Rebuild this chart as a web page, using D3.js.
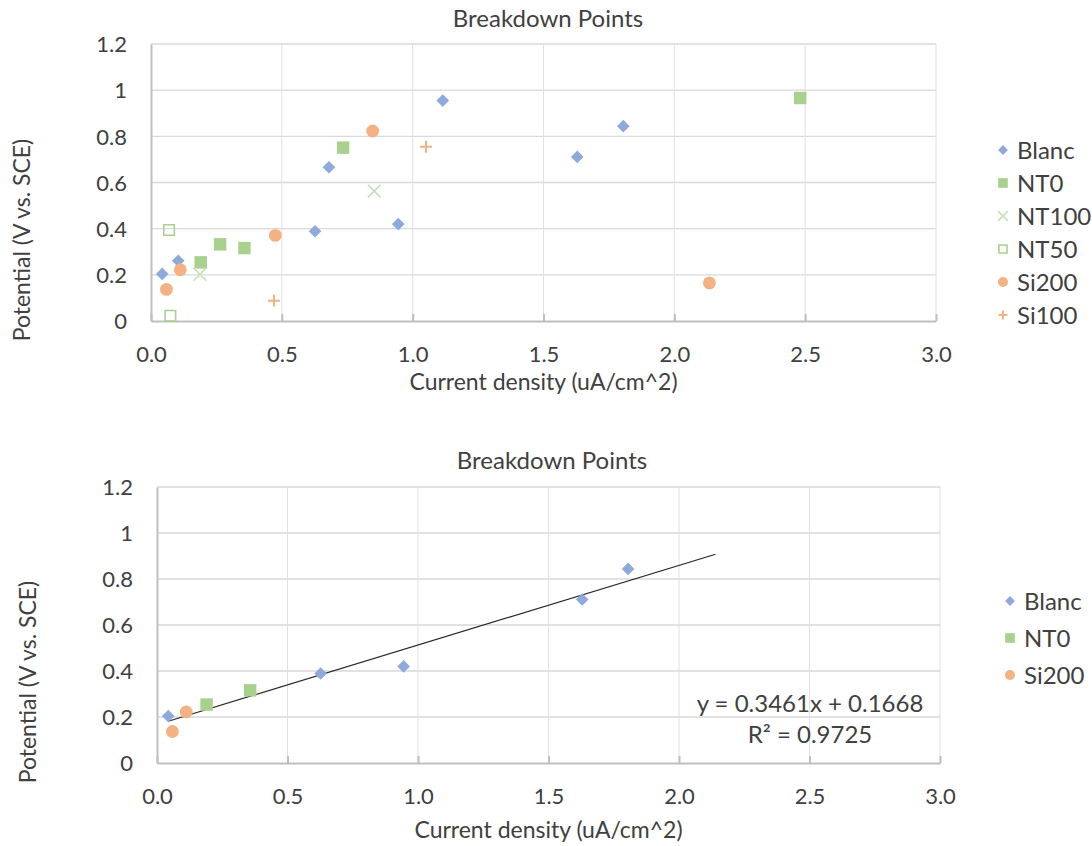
<!DOCTYPE html>
<html>
<head>
<meta charset="utf-8">
<script src="https://cdn.jsdelivr.net/npm/d3@7"></script>
<style>
  html, body { margin: 0; padding: 0; background: #fff; }
  svg { display: block; font-family: Lato, "Open Sans", sans-serif; }
</style>
</head>
<body>
<svg id="chart" width="1092" height="846"></svg>
<script>
// Breakdown points: current density (uA/cm^2) vs potential (V vs. SCE)
const blancX  = [0.043, 0.104, 0.627, 0.680, 0.945, 1.115, 1.629, 1.805];
const blancY  = [0.204, 0.261, 0.389, 0.666, 0.420, 0.955, 0.711, 0.844];
const nt0X    = [0.190, 0.264, 0.357, 0.734, 2.481];
const nt0Y    = [0.254, 0.332, 0.316, 0.751, 0.966];
const nt100X  = [0.187, 0.853];
const nt100Y  = [0.202, 0.563];
const nt50X   = [0.069, 0.074];
const nt50Y   = [0.394, 0.023];
const si200X  = [0.059, 0.112, 0.475, 0.847, 2.134];
const si200Y  = [0.137, 0.222, 0.371, 0.823, 0.165];
const si100X  = [0.470, 1.051];
const si100Y  = [0.088, 0.755];

// Points used for the linear fit in the lower chart
const fitBlancX = [0.043, 0.627, 0.945, 1.629, 1.805];
const fitBlancY = [0.204, 0.389, 0.420, 0.711, 0.844];
const fitNt0X   = [0.190, 0.357];
const fitNt0Y   = [0.254, 0.316];
const fitSi200X = [0.059, 0.112];
const fitSi200Y = [0.137, 0.222];

// Linear trendline coefficients and its x span
const trendSlope = 0.3461;
const trendIntercept = 0.1668;
const trendRSquared = 0.9725;
const trendSpan = [0.043, 2.14];

const xTicks = [0, 0.5, 1.0, 1.5, 2.0, 2.5, 3.0];
const yTicks = [0, 0.2, 0.4, 0.6, 0.8, 1.0, 1.2];

const chartTitle = "Breakdown Points";
const xTitle = "Current density (uA/cm^2)";
const yTitle = "Potential (V vs. SCE)";

const zip = (xs, ys) => xs.map((x, i) => ({x, y: ys[i]}));

// Custom marker shapes for d3.symbol
const diamondType = { draw(ctx, size) {
  const r = Math.sqrt(size / 2);
  ctx.moveTo(0, -r); ctx.lineTo(r, 0); ctx.lineTo(0, r); ctx.lineTo(-r, 0); ctx.closePath();
}};
const squareType = { draw(ctx, size) {
  const h = Math.sqrt(size) / 2;
  ctx.rect(-h, -h, 2 * h, 2 * h);
}};
const timesType = { draw(ctx, size) {
  const h = Math.sqrt(size) / 2;
  ctx.moveTo(-h, -h); ctx.lineTo(h, h); ctx.moveTo(h, -h); ctx.lineTo(-h, h);
}};
const plusType = { draw(ctx, size) {
  const h = Math.sqrt(size) / 2;
  ctx.moveTo(-h, 0); ctx.lineTo(h, 0); ctx.moveTo(0, -h); ctx.lineTo(0, h);
}};
const circleType = d3.symbolCircle;

const styles = {
  Blanc: {type: diamondType, size: 80,  fill: "#8EA9DB", stroke: "none", sw: 0},
  NT0:   {type: squareType,  size: 155, fill: "#A9D18E", stroke: "none", sw: 0},
  NT100: {type: timesType,   size: 160, fill: "none", stroke: "#C5E0B4", sw: 1.6},
  NT50:  {type: squareType,  size: 110, fill: "none", stroke: "#A9D18E", sw: 1.6},
  Si200: {type: circleType,  size: 130, fill: "#F4B183", stroke: "none", sw: 0},
  Si100: {type: plusType,    size: 140, fill: "none", stroke: "#F4B183", sw: 2}
};

const svg = d3.select("#chart");
const textColor = "#404040";
const tickFont = 22;
const axisTitleFont = 23;
const labelFont = 24;

function drawChart(cfg) {
  const g = svg.append("g");
  const x = d3.scaleLinear().domain([0, 3]).range([cfg.left, cfg.right]);
  const y = d3.scaleLinear().domain([0, 1.2]).range([cfg.bottom, cfg.top]);

  // gridlines
  g.append("g").selectAll("line").data(yTicks.slice(1)).join("line")
    .attr("x1", x(0)).attr("x2", x(3)).attr("y1", d => y(d)).attr("y2", d => y(d))
    .attr("stroke", "#D9D9D9").attr("stroke-width", 1.4);
  g.append("g").selectAll("line").data(xTicks.slice(1)).join("line")
    .attr("x1", d => x(d)).attr("x2", d => x(d)).attr("y1", y(0)).attr("y2", y(1.2))
    .attr("stroke", "#E0E0E0").attr("stroke-width", 1);

  // x axis with inward ticks
  const xAxis = d3.axisBottom(x).tickValues(xTicks).tickFormat(d3.format(".1f"))
    .tickSizeInner(-7).tickSizeOuter(0).tickPadding(25);
  const xg = g.append("g").attr("transform", `translate(0,${y(0)})`).call(xAxis);
  xg.select(".domain").attr("stroke", "#BFBFBF").attr("stroke-width", 2);
  xg.selectAll(".tick line").attr("stroke", "#BFBFBF").attr("stroke-width", 2);
  xg.selectAll(".tick text").attr("fill", textColor).attr("font-size", tickFont)
    .attr("font-family", "Lato, sans-serif");

  // y axis
  const yAxis = d3.axisLeft(y).tickValues(yTicks).tickFormat(d => d3.format("~g")(d))
    .tickSize(0).tickPadding(24);
  const yg = g.append("g").attr("transform", `translate(${x(0)},0)`).call(yAxis);
  yg.select(".domain").attr("stroke", "#BFBFBF").attr("stroke-width", 2);
  yg.selectAll(".tick text").attr("fill", textColor).attr("font-size", tickFont)
    .attr("font-family", "Lato, sans-serif").attr("dy", "0.35em");

  // trendline
  if (cfg.trend) {
    const line = d3.line().x(d => x(d)).y(d => y(trendSlope * d + trendIntercept));
    g.append("path").attr("d", line(trendSpan)).attr("fill", "none")
      .attr("stroke", "#262626").attr("stroke-width", 1.2);
    const eq = g.append("text").attr("text-anchor", "middle").attr("fill", textColor)
      .attr("font-size", labelFont);
    eq.append("tspan").attr("x", cfg.eqX).attr("y", cfg.eqY)
      .text(`y = ${trendSlope}x + ${trendIntercept}`);
    eq.append("tspan").attr("x", cfg.eqX).attr("y", cfg.eqY + 31)
      .text(`R² = ${trendRSquared}`);
  }

  // markers
  cfg.series.forEach(s => {
    const st = styles[s.name];
    const sym = d3.symbol().type(st.type).size(st.size);
    g.append("g").selectAll("path").data(s.points).join("path")
      .attr("transform", d => `translate(${x(d.x)},${y(d.y)})`)
      .attr("d", sym).attr("fill", st.fill).attr("stroke", st.stroke)
      .attr("stroke-width", st.sw);
  });

  // legend
  cfg.series.forEach((s, i) => {
    const st = styles[s.name];
    const ly = cfg.legendY + i * cfg.legendStep;
    g.append("path").attr("transform", `translate(${cfg.legendX},${ly})`)
      .attr("d", d3.symbol().type(st.type).size(st.size * 0.6))
      .attr("fill", st.fill).attr("stroke", st.stroke).attr("stroke-width", st.sw);
    g.append("text").attr("x", cfg.legendX + 14).attr("y", ly).attr("dy", "0.36em")
      .attr("fill", textColor).attr("font-size", labelFont).text(s.name);
  });

  // titles
  g.append("text").attr("x", cfg.titleX).attr("y", cfg.titleY).attr("text-anchor", "middle")
    .attr("fill", textColor).attr("font-size", labelFont).text(chartTitle);
  g.append("text").attr("x", (cfg.left + cfg.right) / 2).attr("y", cfg.xTitleY)
    .attr("text-anchor", "middle").attr("fill", textColor).attr("font-size", axisTitleFont).text(xTitle);
  g.append("text").attr("transform", `translate(${cfg.yTitleX},${cfg.yTitleY}) rotate(-90)`)
    .attr("text-anchor", "middle").attr("fill", textColor).attr("font-size", axisTitleFont).text(yTitle);
}

drawChart({
  left: 151, right: 936, top: 44, bottom: 321,
  titleX: 548, titleY: 27, xTitleY: 390, yTitleX: 30, yTitleY: 240,
  legendX: 1003, legendY: 150, legendStep: 33,
  series: [
    {name: "Blanc", points: zip(blancX, blancY)},
    {name: "NT0",   points: zip(nt0X, nt0Y)},
    {name: "NT100", points: zip(nt100X, nt100Y)},
    {name: "NT50",  points: zip(nt50X, nt50Y)},
    {name: "Si200", points: zip(si200X, si200Y)},
    {name: "Si100", points: zip(si100X, si100Y)}
  ]
});

drawChart({
  left: 157, right: 940, top: 487, bottom: 763,
  titleX: 552, titleY: 469, xTitleY: 838, yTitleX: 36, yTitleY: 682,
  legendX: 1010, legendY: 601, legendStep: 37,
  trend: true, eqX: 810, eqY: 712,
  series: [
    {name: "Blanc", points: zip(fitBlancX, fitBlancY)},
    {name: "NT0",   points: zip(fitNt0X, fitNt0Y)},
    {name: "Si200", points: zip(fitSi200X, fitSi200Y)}
  ]
});
</script>
</body>
</html>
